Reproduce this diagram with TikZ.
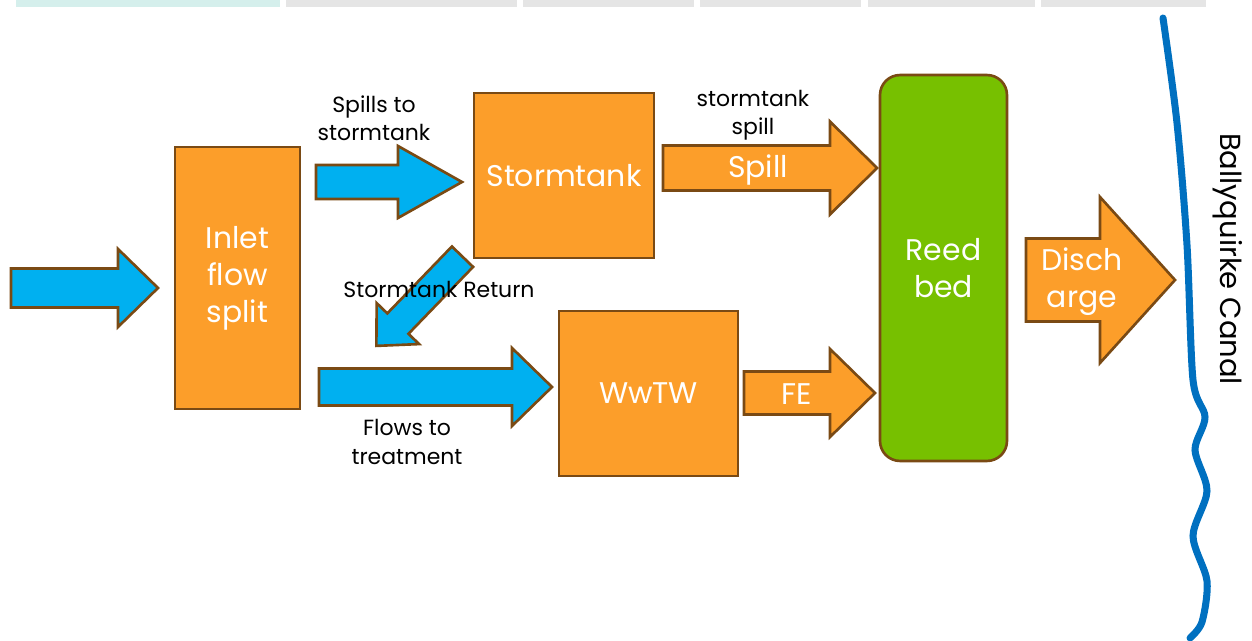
\documentclass[tikz,border=0pt]{standalone}
\usepackage{fontspec}
\setmainfont{Poppins}
\usetikzlibrary{positioning}

\definecolor{flowblue}{HTML}{00B0F0}
\definecolor{tankorange}{HTML}{FC9E2A}
\definecolor{edgebrown}{HTML}{7A4A14}
\definecolor{reedgreen}{HTML}{77C000}
\definecolor{canalblue}{HTML}{0070C0}
\definecolor{tabcyan}{HTML}{D5EFEC}
\definecolor{tabgrey}{HTML}{E5E5E5}

\tikzset{
  arrowline/.style={draw=edgebrown, line width=1.5pt, line join=miter},
  unitbox/.style={draw=edgebrown, fill=tankorange, line width=1.5pt, inner sep=0pt,
    text=white, align=center, font=\fontsize{17}{21}\selectfont},
  onarrow/.style={text=white, align=center, font=\fontsize{17}{21}\selectfont},
  flowlabel/.style={text=black, align=center, font=\fontsize{12.5}{16}\selectfont}
}

% block arrow: colour, tail x, head x, tip x, centre y, half shaft, half head
\newcommand{\flowarrow}[7]{%
  \filldraw[arrowline, fill=#1] (#2,#5-#6) -- (#3,#5-#6) -- (#3,#5-#7) -- (#4,#5)
    -- (#3,#5+#7) -- (#3,#5+#6) -- (#2,#5+#6) -- cycle;
}

\begin{document}
\begin{tikzpicture}[x=0.02cm,y=-0.02cm]
  \useasboundingbox (0,0) rectangle (1252,641);

  % table strip cut off at the top
  \fill[tabcyan] (16,0) rectangle (280,7);
  \foreach \a/\b in {286/517,523/694,700/861,868/1035,1041/1206}
    \fill[tabgrey] (\a,0) rectangle (\b,7);

  % units
  \node[unitbox, minimum width=2.5cm, minimum height=5.24cm] (inlet) at (237.5,278) {Inlet\\flow\\split};
  \node[unitbox, minimum width=3.6cm, minimum height=3.3cm] (tank) at (564,175.5) {Stormtank};
  \node[unitbox, minimum width=3.58cm, minimum height=3.3cm] (wwtw) at (648.5,393.5) {WwTW};
  \node[unitbox, fill=reedgreen, rounded corners=0.4cm, minimum width=2.54cm,
    minimum height=7.72cm] (reed) at (943.5,268) {Reed\\bed};

  % flows
  \flowarrow{flowblue}{11}{118}{158}{288}{19.5}{39}
  \flowarrow{flowblue}{316}{398}{462}{182}{17}{36}
  \flowarrow{flowblue}{319}{512}{552}{387}{18.5}{39}
  \begin{scope}[shift={(462.5,256.7)}, rotate=226]
    \flowarrow{flowblue}{0}{93}{124}{0}{14.7}{29.5}
  \end{scope}
  \flowarrow{tankorange}{663}{830}{877}{168}{22.5}{46.5}
  \flowarrow{tankorange}{744}{830}{875}{393}{21.5}{44}
  \flowarrow{tankorange}{1026}{1100}{1175}{280}{41.5}{83}

  \node[onarrow] (spill) at (758,170) {Spill};
  \node[onarrow] (fe) at (797,394) {FE};
  \node[onarrow] (discharge) at (1082,282) {Disch\\arge};

  % labels
  \node[flowlabel] (tospill) at (374,118) {Spills to\\stormtank};
  \node[flowlabel] (tankspill) at (753,115) {stormtank\\spill};
  \node[flowlabel] (return) at (439,289) {Stormtank Return};
  \node[flowlabel] (totreat) at (407,442) {Flows to\\treatment};

  % canal
  \draw[canalblue, line width=4pt, line cap=round] plot[smooth] coordinates {
    (1163,18) (1177,123) (1187,245) (1193,380) (1205,417) (1195,450)
    (1207,491) (1193,536) (1207,581) (1202,622) (1190,638)};
  \node[flowlabel, font=\fontsize{16.5}{20}\selectfont, rotate=-90] (canal) at (1228,259) {Ballyquirke Canal};
\end{tikzpicture}
\end{document}
